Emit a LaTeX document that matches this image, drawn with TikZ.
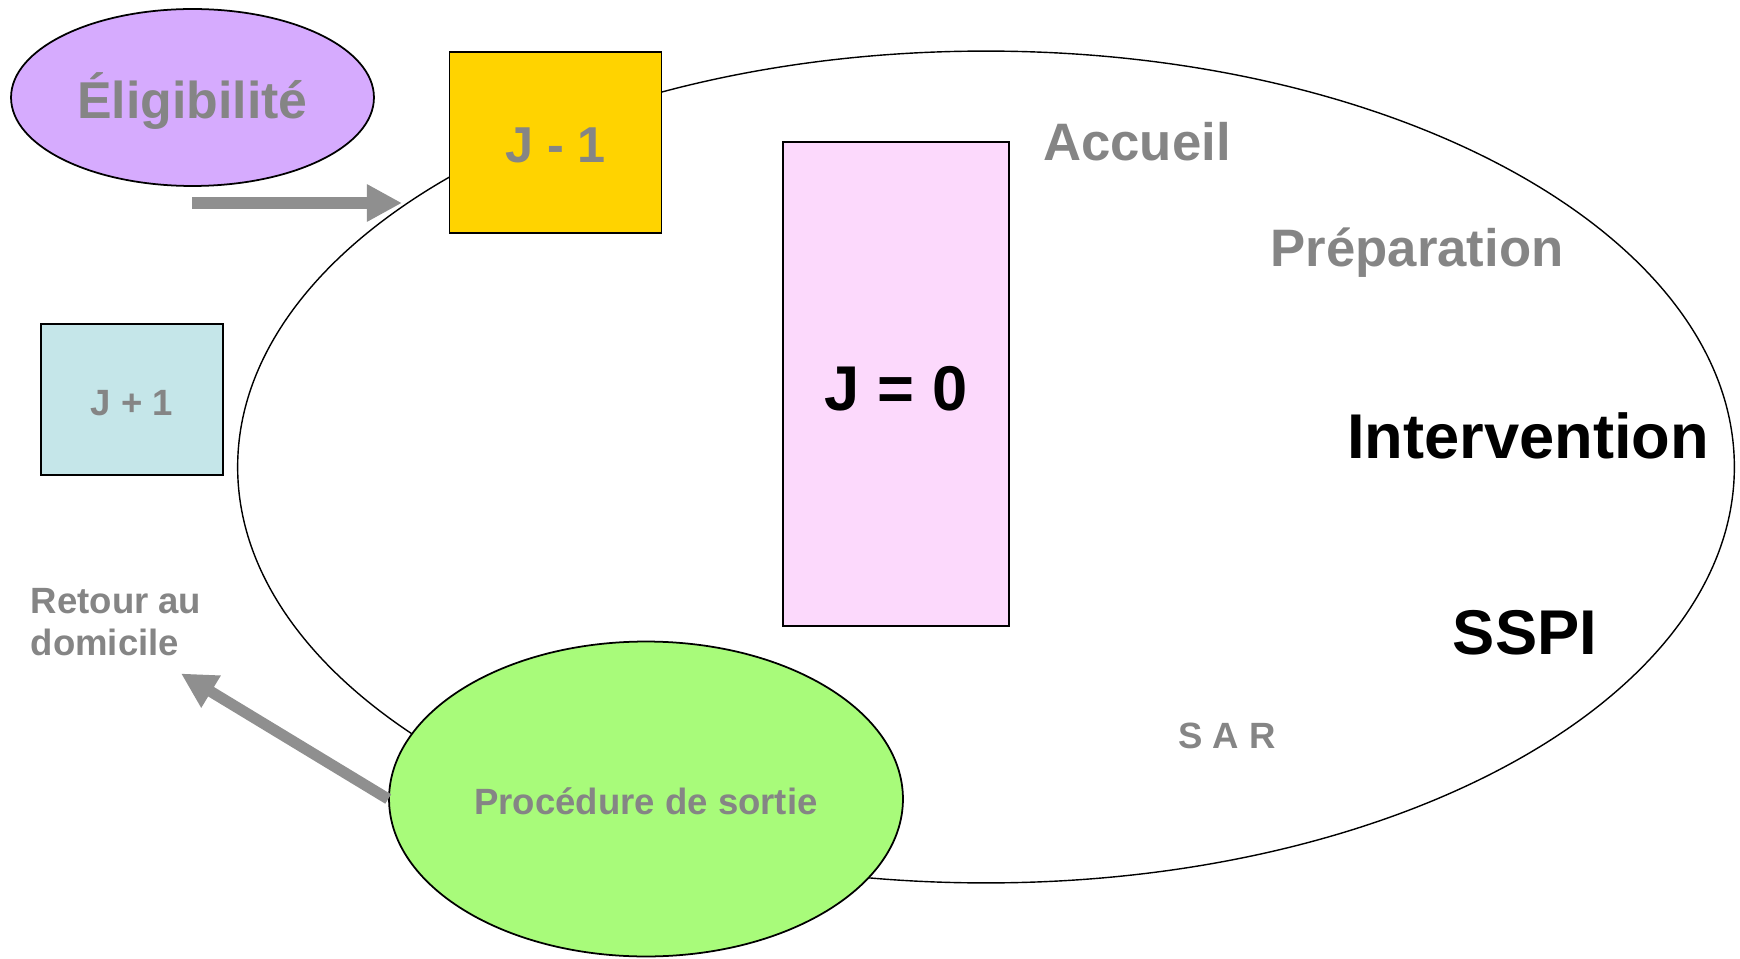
\documentclass[tikz,border=0pt]{standalone}
\usepackage{fontspec}
\setmainfont{Liberation Sans}
\usepackage{tikz}
\usetikzlibrary{arrows.meta,positioning}
\usetikzlibrary{calc,shapes.geometric}
\definecolor{textgray}{HTML}{858585}
\definecolor{arrowgray}{HTML}{8F8F8F}
\definecolor{eligfill}{HTML}{D6ABFE}
\definecolor{veillefill}{HTML}{FFD300}
\definecolor{lendemainfill}{HTML}{C5E6E9}
\definecolor{jourfill}{HTML}{FCD9FC}
\definecolor{sortiefill}{HTML}{A8FB7A}
\newcommand{\hugesize}{\fontsize{36}{40}\selectfont\bfseries}
\newcommand{\midsize}{\fontsize{30}{34}\selectfont\bfseries}
\newcommand{\smallsize}{\fontsize{20.8}{24}\selectfont\bfseries}
\newcommand{\sinktext}[2]{\raisebox{-#1}[\height][\depth]{#2}}

\begin{document}
\begin{tikzpicture}[x=0.02cm, y=-0.02cm,
    fatarrow/.style={line width=6.3pt, arrowgray,
        -{Triangle[length=20pt, width=20pt]}},
    shapebox/.style={draw, line width=1pt, inner sep=0pt}
]
        \useasboundingbox (0,0) rectangle (1740,959);

        % Sejour
        \node[ellipse, draw, line width=0.8pt,
            minimum width=29.94cm,
            minimum height=16.64cm] (sejour) at (986,467) {};

        % Eligibilite
        \node[ellipse, shapebox,
            fill=eligfill,
            minimum width=7.26cm,
            minimum height=3.54cm,
            text=textgray,
            font=\fontsize{29.5}{34}\selectfont\bfseries] (elig) at (192.5,97.5) {\sinktext{1.9pt}{Éligibilité}};

        % Veille
        \node[rectangle, shapebox,
            fill=veillefill,
            minimum width=4.24cm,
            minimum height=3.62cm,
            text=textgray,
            font=\fontsize{28.7}{33}\selectfont\bfseries] (veille) at (555.5,142.5) {\sinktext{1.9pt}{J - 1}};

        % Jour
        \node[rectangle, shapebox,
            fill=jourfill,
            minimum width=4.53cm,
            minimum height=9.68cm,
            font=\hugesize] (jour) at (896,384) {\sinktext{2.5pt}{J = 0}};

        % Lendemain
        \node[rectangle, shapebox,
            fill=lendemainfill,
            minimum width=3.64cm,
            minimum height=3.02cm,
            text=textgray,
            font=\smallsize] (lendemain) at (132,399.5) {\sinktext{1.9pt}{J + 1}};

        % Sortie
        \node[ellipse, shapebox,
            fill=sortiefill,
            minimum width=10.28cm,
            minimum height=6.3cm,
            text=textgray,
            font=\smallsize] (sortie) at (646,799) {\sinktext{1.2pt}{Procédure de sortie}};

        % Etapes
        \node[text=textgray, font=\midsize] (accueil) at (1137,142) {Accueil};
        \node[text=textgray, font=\midsize] (prepa) at (1417,253) {Préparation};
        \node[font=\hugesize] (interv) at (1528,436) {Intervention};
        \node[font=\hugesize] (sspi) at (1525,632.5) {SSPI};
        \node[text=textgray, font=\smallsize] (sar) at (1227,736) {S A R};

        % Retour
        \node[anchor=west, align=left, text=textgray,
            font=\fontsize{20.8}{23.8}\selectfont\bfseries] (retour) at (24.6,622) {Retour au\\domicile};

        % Fleches
        \coordinate (eligout) at (192,203);
        \coordinate (veillein) at (402,203);
        \coordinate (retourin) at (181,673.5);
        \draw[fatarrow] (eligout) -- (veillein);
        \draw[fatarrow] (sortie.west) -- (retourin);

    \end{tikzpicture}
\end{document}
